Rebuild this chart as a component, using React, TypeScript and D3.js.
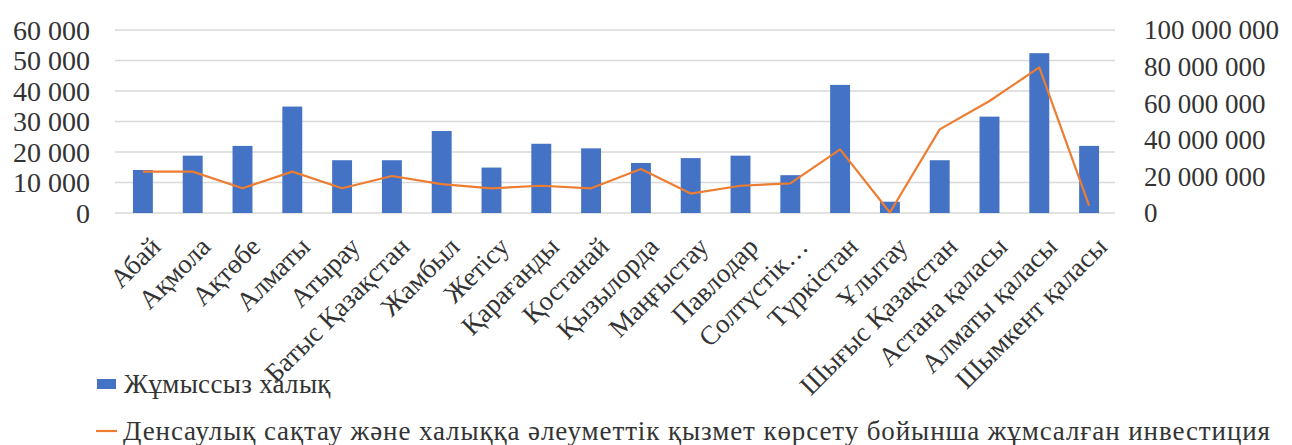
import React from "react";
import * as d3 from "d3";

const categories = [
  "Абай", "Ақмола", "Ақтөбе", "Алматы", "Атырау", "Батыс Қазақстан", "Жамбыл",
  "Жетісу", "Қарағанды", "Қостанай", "Қызылорда", "Маңғыстау", "Павлодар",
  "Солтүстік…", "Түркістан", "Ұлытау", "Шығыс Қазақстан", "Астана қаласы",
  "Алматы қаласы", "Шымкент қаласы",
];
const unemployed = [
  14100, 18800, 22000, 34900, 17300, 17300, 26900, 14900, 22700, 21200, 16400,
  18000, 18800, 12400, 42000, 3700, 17300, 31600, 52400, 22000,
];
const investment = [
  22600000, 22600000, 13500000, 22600000, 13500000, 20200000, 15800000, 13500000,
  14900000, 13500000, 24000000, 10600000, 14900000, 16200000, 34800000, 300000,
  45700000, 61200000, 79600000, 4000000,
];
const leftTicks = [0, 10000, 20000, 30000, 40000, 50000, 60000];
const rightTicks = [0, 20000000, 40000000, 60000000, 80000000, 100000000];
const seriesNames = [
  "Жұмыссыз халық",
  "Денсаулық сақтау және халыққа әлеуметтік қызмет көрсету бойынша жұмсалған инвестиция",
];

const fmt = (v: number) => d3.format(",")(v).replace(/,/g, " ");

export default function App() {
  const W = 1276;
  const H = 437;
  const font = "Tinos, 'Liberation Serif', 'Times New Roman', 'DejaVu Serif', 'Noto Serif', serif";
  const textColor = "#333333";
  const x = d3
    .scaleBand<string>()
    .domain(categories)
    .range([110, 1106])
    .paddingInner(0.6)
    .paddingOuter(0.3);
  const yL = d3.scaleLinear().domain([0, 60000]).range([205, 22]);
  const yR = d3.scaleLinear().domain([0, 100000000]).range([205, 22]);
  const cx = (c: string) => (x(c) as number) + x.bandwidth() / 2;
  const line = d3
    .line<number>()
    .x((_, i) => cx(categories[i]))
    .y((d) => yR(d));
  const ts = { fontFamily: font };

  return (
    <svg width={W} height={H} style={{ display: "block" }}>
      {leftTicks.map((t) => (
        <line key={"g" + t} x1={107} x2={1107} y1={yL(t)} y2={yL(t)} stroke="#d9d9d9" strokeWidth={1.5} />
      ))}
      {leftTicks.map((t) => (
        <text key={"l" + t} style={ts} x={82} y={yL(t)} dy="0.35em" textAnchor="end" fontSize={28} fill={textColor}>
          {fmt(t)}
        </text>
      ))}
      {rightTicks.map((t) => (
        <text key={"r" + t} style={ts} x={1136} y={yR(t)} dy="0.35em" textAnchor="start" fontSize={27} fill={textColor}>
          {fmt(t)}
        </text>
      ))}
      {categories.map((c, i) => (
        <rect key={"b" + c} x={x(c)} y={yL(unemployed[i])} width={x.bandwidth()} height={yL(0) - yL(unemployed[i])} fill="#4472C4" />
      ))}
      <path d={line(investment) || ""} fill="none" stroke="#ED7D31" strokeWidth={2.2} strokeLinejoin="round" />
      {categories.map((c) => (
        <text
          key={"x" + c}
          style={ts}
          transform={`translate(${cx(c) + 6},${227}) rotate(-45)`}
          textAnchor="end"
          dy="0.7em"
          fontSize={27}
          fill={textColor}
        >
          {c}
        </text>
      ))}
      <rect x={89} y={371} width={19} height={10} fill="#4472C4" />
      <text style={{ ...ts, letterSpacing: "0.3px" }} x={116} y={385} fontSize={27} fill={textColor}>{seriesNames[0]}</text>
      <line x1={88} x2={109} y1={423} y2={423} stroke="#ED7D31" strokeWidth={2.2} />
      <text style={{ ...ts, letterSpacing: "0.9px" }} x={115} y={432} fontSize={27} fill={textColor}>{seriesNames[1]}</text>
    </svg>
  );
}
